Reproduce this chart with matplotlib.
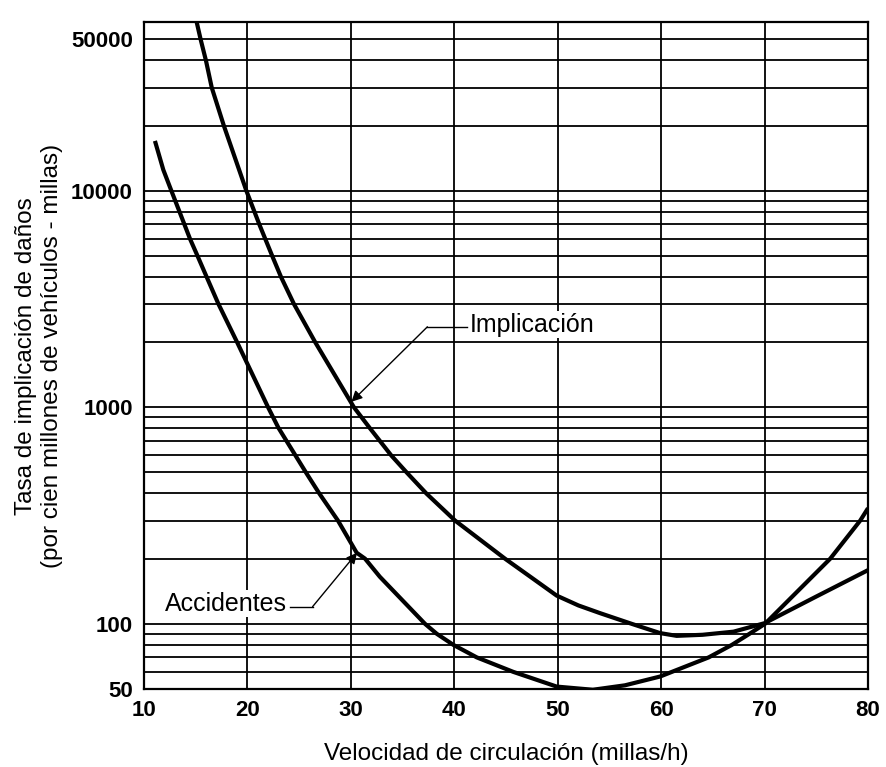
import numpy as np
import matplotlib
matplotlib.use('Agg')
import matplotlib.pyplot as plt

plt.rcParams['font.family'] = ['Liberation Sans', 'DejaVu Sans']

# Curvas (velocidad mph, tasa por 1e8 veh-millas)
vel_impl = [15.1, 15.48, 15.99, 16.55, 17.72, 19.9, 21.15, 22.4, 23.25, 24.5, 26.55,
            30.3, 31.85, 33.9, 35.4, 37.3, 40.07, 44.9, 47.35, 49.9, 52.0, 54.1,
            57.15, 59.9, 61.5, 64.0, 67.0, 70.0, 75.0, 80.0]
tasa_impl = [60000, 50000, 40000, 30000, 20000, 10000, 7000, 5000, 4000, 3000, 2000,
             1000, 800, 600, 500, 400, 300, 200, 165, 135, 121.6, 112,
             100, 90.6, 88, 89, 92, 100.7, 133.7, 177]

vel_acc = [11.06, 11.87, 12.65, 14.45, 15.18, 16.06, 17.2, 19.0, 22.0, 23.0, 25.66,
           26.95, 28.75, 30.56, 31.37, 32.8, 37.17, 38.3, 39.9, 42.17, 45.7,
           49.9, 53.4, 56.5, 59.9, 64.6, 66.85, 68.55, 70.04, 76.35, 79.25, 80.0]
tasa_acc = [17000, 12500, 10000, 6000, 5000, 4000, 3000, 2000, 1000, 804, 500,
            400, 300, 213, 200, 165, 100, 90, 80, 70, 60,
            51.3, 49.6, 52, 57.1, 70, 80, 90, 100, 200, 300, 342]

xticks = [10, 20, 30, 40, 50, 60, 70, 80]
yticks = [50, 100, 1000, 10000, 50000]
ylabels = ['50', '100', '1000', '10000', '50000']

fig = plt.figure(figsize=(8.86, 7.67), dpi=100)
ax = fig.add_axes([0.1625, 0.10169, 0.8172, 0.8692])
ax.set_yscale('log')
ax.set_xlim(10, 80)
ax.set_ylim(50, 60000)

# rejilla
lineas_h = []
for dec in [10, 100, 1000, 10000]:
    for k in range(1, 10):
        v = k * dec
        if 50 < v <= 50000:
            lineas_h.append(v)
for v in lineas_h:
    ax.axhline(v, color='black', lw=1.3, zorder=1)
for x in xticks[1:-1]:
    ax.axvline(x, color='black', lw=1.3, zorder=1)

ax.plot(vel_impl, tasa_impl, color='black', lw=3.0, solid_joinstyle='round',
        solid_capstyle='butt', zorder=3)
ax.plot(vel_acc, tasa_acc, color='black', lw=3.0, solid_joinstyle='round',
        solid_capstyle='butt', zorder=3)

ax.set_xticks(xticks)
ax.set_xticklabels([str(t) for t in xticks], fontsize=16, fontweight='bold')
ax.set_yticks(yticks)
ax.set_yticklabels(ylabels, fontsize=16, fontweight='bold')
ax.yaxis.set_minor_locator(matplotlib.ticker.NullLocator())
ax.tick_params(length=0, pad=8)
for s in ax.spines.values():
    s.set_linewidth(1.6)

ax.set_xlabel('Velocidad de circulación (millas/h)', fontsize=17.5, labelpad=16)
ax.set_ylabel('Tasa de implicación de daños\n(por cien millones de vehículos - millas)',
              fontsize=17.5, labelpad=6)

# etiquetas con flecha
ax.text(41.5, 2400, 'Implicación', fontsize=18, va='center', ha='left', zorder=4,
        bbox=dict(facecolor='white', edgecolor='none', pad=1))
ax.plot([37.4, 41.2], [2354, 2354], color='black', lw=1.0, zorder=4)
ax.annotate('', xy=(30.05, 1060), xytext=(37.4, 2354), zorder=4,
            arrowprops=dict(arrowstyle='-|>', color='black', lw=1.0,
                            mutation_scale=16, shrinkA=0, shrinkB=0))

ax.text(23.8, 124, 'Accidentes', fontsize=18, va='center', ha='right', zorder=4,
        bbox=dict(facecolor='white', edgecolor='none', pad=1))
ax.plot([24.1, 26.3], [120, 120], color='black', lw=1.0, zorder=4)
ax.annotate('', xy=(30.6, 213), xytext=(26.3, 120), zorder=4,
            arrowprops=dict(arrowstyle='-|>', color='black', lw=1.0,
                            mutation_scale=16, shrinkA=0, shrinkB=0))

plt.savefig('out.png', dpi=100)
